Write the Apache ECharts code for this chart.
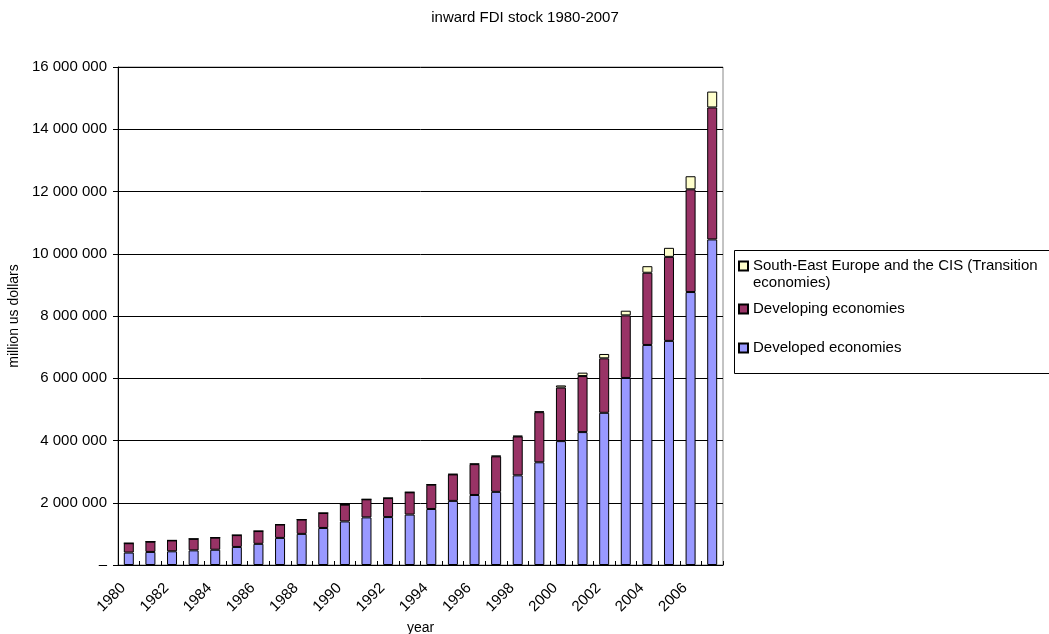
<!DOCTYPE html>
<html>
<head>
<meta charset="utf-8">
<script src="https://cdn.jsdelivr.net/npm/echarts@6/dist/echarts.min.js"></script>
<style>
html,body{margin:0;padding:0;background:#fff;}
#chart{width:1049px;height:634px;}
</style>
</head>
<body>
<div id="chart"></div>
<script>
var years = ['1980','1981','1982','1983','1984','1985','1986','1987','1988','1989',
  '1990','1991','1992','1993','1994','1995','1996','1997','1998','1999',
  '2000','2001','2002','2003','2004','2005','2006','2007'];

var developed = [400000,420000,440000,470000,490000,580000,680000,870000,1000000,1190000,
  1400000,1530000,1540000,1620000,1800000,2060000,2250000,2350000,2880000,3300000,
  3980000,4270000,4890000,6010000,7070000,7200000,8770000,10460000];

var developing = [300000,330000,350000,370000,390000,380000,410000,430000,460000,480000,
  540000,580000,610000,715000,780000,850000,990000,1140000,1250000,1610000,
  1720000,1800000,1750000,2010000,2320000,2700000,3300000,4240000];

var transition = [0,0,0,0,0,0,0,0,0,0,
  0,0,3000,5000,8000,12000,15000,20000,20000,25000,
  70000,110000,140000,150000,210000,290000,420000,510000];

var seriesNames = ['Developed economies','Developing economies','South-East Europe and the CIS (Transition economies)'];
var yTicks = [0,2000000,4000000,6000000,8000000,10000000,12000000,14000000,16000000];

var FONT = '"Liberation Sans", Arial, sans-serif';

function fmt(v){
  if (v === 0) return '\u2013';
  return String(v).replace(/\B(?=(\d{3})+(?!\d))/g, ' ');
}

var chart = echarts.init(document.getElementById('chart'), null, {renderer:'canvas'});

function legendCfg(name, top, twoLine){
  return {
    data:[name], orient:'vertical', left:738, top:top, padding:0,
    itemWidth:9, itemHeight:9, itemGap:0, icon:'rect', selectedMode:false,
    textStyle:{color:'#000', fontSize:15, fontFamily:FONT, lineHeight:17},
    formatter: function(n){
      return twoLine ? '\n' + n.replace(' economies)', '\neconomies)') : n;
    }
  };
}

var option = {
  animation:false,
  backgroundColor:'#fff',
  title:{
    text:'inward FDI stock 1980-2007', left:525, top:10, padding:0, textAlign:'center',
    textStyle:{fontSize:15, fontWeight:'normal', color:'#000', fontFamily:FONT}
  },
  graphic:[{
    type:'rect', z:0, silent:true,
    shape:{x:734.5, y:250.5, width:330, height:123},
    style:{fill:'#fff', stroke:'#000', lineWidth:1}
  }],
  legend:[
    legendCfg(seriesNames[2], 240.5, true),
    legendCfg(seriesNames[1], 300.5, false),
    legendCfg(seriesNames[0], 339.5, false)
  ],
  grid:{left:118, right:326, top:67, bottom:69, containLabel:false, outerBoundsMode:'none',
    show:true, borderColor:'#888', borderWidth:1, backgroundColor:'transparent'},
  xAxis:{
    type:'category', data:years,
    name:'year', nameLocation:'middle', nameGap:55,
    nameTextStyle:{fontSize:14, color:'#000', fontFamily:FONT},
    axisLine:{lineStyle:{color:'#000', width:1}},
    axisTick:{show:true, inside:true, length:4, interval:0, alignWithLabel:false, lineStyle:{color:'#000'}},
    axisLabel:{interval:1, rotate:45, margin:15, padding:[0,8,0,0], fontSize:15, color:'#000', fontFamily:FONT}
  },
  yAxis:{
    type:'value', min:yTicks[0], max:yTicks[yTicks.length-1], interval:yTicks[1]-yTicks[0],
    name:'million us dollars', nameLocation:'middle', nameGap:93, nameRotate:90,
    nameTextStyle:{fontSize:14, color:'#000', fontFamily:FONT},
    axisLine:{show:true, lineStyle:{color:'#000', width:1}},
    axisTick:{show:true, inside:false, length:5, lineStyle:{color:'#000'}},
    axisLabel:{margin:11, fontSize:15, color:'#000', fontFamily:FONT, formatter:fmt},
    splitLine:{show:true, lineStyle:{color:'#000', width:1}}
  },
  series:[
    {name:seriesNames[0], type:'bar', stack:'total', data:developed, barWidth:10,
      itemStyle:{color:'#9999FF', borderColor:'#000', borderWidth:1}},
    {name:seriesNames[1], type:'bar', stack:'total', data:developing, barWidth:10,
      itemStyle:{color:'#993366', borderColor:'#000', borderWidth:1}},
    {name:seriesNames[2], type:'bar', stack:'total', data:transition, barWidth:10,
      itemStyle:{color:'#FFFFCC', borderColor:'#000', borderWidth:1}}
  ]
};
chart.setOption(option);
</script>
</body>
</html>
